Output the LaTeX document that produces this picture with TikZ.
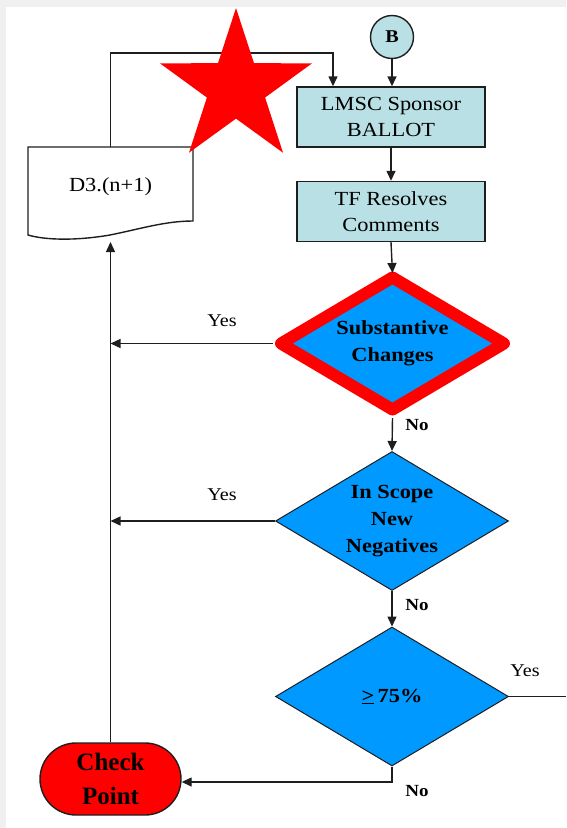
\documentclass[tikz,border=0pt]{standalone}
\usepackage{fontspec}
\setmainfont{Liberation Serif}[FakeStretch=1.12]
\newfontfamily\cpfont{Liberation Serif}
\usetikzlibrary{arrows.meta,shapes.geometric}
\definecolor{boxfill}{RGB}{185,224,228}
\definecolor{dblue}{RGB}{0,153,255}
\definecolor{framegray}{RGB}{240,240,240}
\definecolor{linec}{RGB}{30,30,30}
\begin{document}
\begin{tikzpicture}[x=1pt,y=-1pt,
  conn/.style={draw=linec,line width=1.4pt},
  arr/.style={conn,-{Triangle[length=10pt,width=9pt]}},
  procbox/.style={draw=linec,line width=1.4pt,fill=boxfill,minimum width=188pt,minimum height=60pt,inner sep=0pt,align=center,font=\fontsize{20}{26}\selectfont},
  dec/.style={diamond,draw=linec,line width=1pt,fill=dblue,minimum width=233pt,minimum height=139pt,inner sep=0pt},
  dtext/.style={align=center,font=\fontsize{20}{27}\selectfont\bfseries,inner sep=0pt},
  yeslab/.style={font=\fontsize{18}{20}\selectfont,inner sep=0pt},
  nolab/.style={font=\fontsize{17}{20}\selectfont\bfseries,inner sep=0pt}
]
\fill[framegray] (0,0) rectangle (566,7);
\fill[framegray] (0,0) rectangle (6,828);
\useasboundingbox (0,0) rectangle (566,828);

% nodes
\node[circle,draw=linec,line width=1.4pt,fill=boxfill,minimum size=43pt,inner sep=0pt,font=\fontsize{18}{20}\selectfont\bfseries] (B) at (392,37) {B};
\node[procbox] (lmsc) at (391,117) {LMSC Sponsor\\BALLOT};
\node[procbox] (tf) at (391,211.5) {TF Resolves\\Comments};
\node[dec,draw=red,line width=12pt,line join=round,minimum width=228pt,minimum height=137pt,label={[dtext]center:Substantive\\Changes}] (d1) at (392.5,343.5) {};
\node[dec,label={[dtext]center:In Scope\\New\\Negatives}] (d2) at (392,521) {};
\node[dec,label={[dtext]center:\underline{>}\,75\%}] (d3) at (392,696.5) {};
\node[draw=linec,line width=1.4pt,fill=red,rounded corners=36pt,minimum width=141pt,minimum height=72pt,inner sep=0pt,align=center,font=\cpfont\fontsize{25}{34}\selectfont\bfseries] (cp) at (110.5,779) {Check\\Point};

% document shape
\draw[conn,fill=white] (28,147) -- (193,147) -- (193,221)
  .. controls (165,221) and (140,229) .. (110,235)
  .. controls (75,241) and (45,240) .. (28,235) -- cycle;
\node[minimum width=165pt,minimum height=80pt,inner sep=0pt,font=\fontsize{20}{24}\selectfont] (doc) at (110.5,187) {D3.(n+1)};

% coordinates
\coordinate (lp) at (333,53);
\coordinate (docbot) at (110.5,242);
\coordinate (rx) at (566,696.5);
\coordinate (cpin) at ([yshift=-3pt]cp.east);

% connectors
\draw[arr] (B.south) -- (B.south |- lmsc.north);
\draw[arr] (lmsc) -- (tf);
\draw[arr] (tf.south) -- ([yshift=-4pt]d1.north);
\draw[arr] (doc.north) |- (lp) -- (lp |- lmsc.north);
\draw[arr] (d1.west) -- (d1.west -| cp.north);
\draw[arr] (d1.south) -- (d2.north);
\draw[arr] (d2.west) -- (d2.west -| cp.north);
\draw[arr] (d2.south) -- (d3.north);
\draw[conn] (d3.east) -- (rx);
\draw[arr] (d3.south) |- (cpin);
\draw[arr] (cp.north) -- (docbot);

% labels
\node[yeslab] (y1) at (222,321) {Yes};
\node[yeslab] (y2) at (222,495) {Yes};
\node[yeslab] (y3) at (525,671) {Yes};
\node[nolab] (n1) at (417,425) {No};
\node[nolab] (n2) at (417,605) {No};
\node[nolab] (n3) at (417,791) {No};

% star
\fill[red] (236,8) -- (254.0,63.2) -- (312.1,63.3) -- (265.1,97.5) -- (283.0,152.7)
  -- (236,118.6) -- (189.0,152.7) -- (206.9,97.5) -- (159.9,63.3) -- (218.0,63.2) -- cycle;
\end{tikzpicture}
\end{document}
